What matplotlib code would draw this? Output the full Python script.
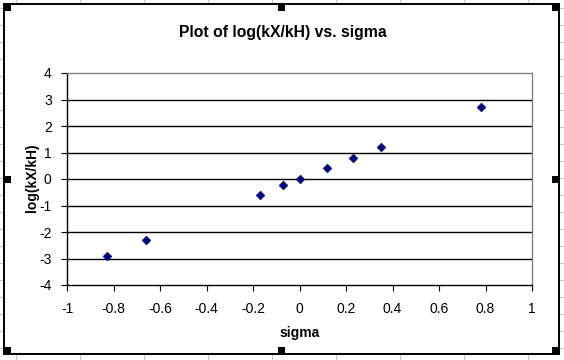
import matplotlib
matplotlib.use("Agg")
import matplotlib.pyplot as plt
from matplotlib.patches import Rectangle

# Data
sigma = [-0.83, -0.66, -0.17, -0.07, 0.0, 0.12, 0.23, 0.35, 0.78]
log_ratio = [-2.89, -2.29, -0.59, -0.21, 0.0, 0.43, 0.81, 1.22, 2.73]
x_ticks = [-1, -0.8, -0.6, -0.4, -0.2, 0, 0.2, 0.4, 0.6, 0.8, 1]
x_tick_labels = ["-1", "-0.8", "-0.6", "-0.4", "-0.2", "0", "0.2", "0.4", "0.6", "0.8", "1"]
y_ticks = [-4, -3, -2, -1, 0, 1, 2, 3, 4]
title = "Plot of log(kX/kH) vs. sigma"
xlabel = "sigma"
ylabel = "log(kX/kH)"

plt.rcParams['font.family'] = ['Liberation Sans', 'DejaVu Sans']

W, H = 564, 360
fig = plt.figure(figsize=(W / 100, H / 100), dpi=100)

# Background (spreadsheet cells + chart area)
bg = fig.add_axes([0, 0, 1, 1])
bg.set_xlim(0, W)
bg.set_ylim(H, 0)
bg.axis('off')
grid_c = '#c8c8c8'
for xv in range(16, W, 64):
    bg.plot([xv, xv], [0, H], color=grid_c, lw=0.8, zorder=0)
for yv in range(8, H, 17):
    bg.plot([0, W], [yv, yv], color=grid_c, lw=0.8, zorder=0)
bg.add_patch(Rectangle((4, 4), 555, 350, facecolor='white', edgecolor='black', lw=1.4, zorder=1))
# selection handles
hs = 7
for hx in (4, 281.5 - hs / 2, 559 - hs):
    for hy in (4, 354 - hs):
        bg.add_patch(Rectangle((hx, hy), hs, hs, facecolor='black', edgecolor='none', zorder=2))
for hx in (4, 559 - hs):
    bg.add_patch(Rectangle((hx, 179 - hs / 2), hs, hs, facecolor='black', edgecolor='none', zorder=2))

bg.text(283, 32, title, ha='center', va='center', fontsize=11.3, fontweight='bold', zorder=3)
bg.text(31.5, 178, ylabel, ha='center', va='center', rotation=90, fontsize=10, fontweight='bold', zorder=3)
bg.text(299.5, 333, xlabel, ha='center', va='center', fontsize=10, fontweight='bold', zorder=3)

# Plot area
left, right, top, bottom = 67, 532, 73, 285
ax = fig.add_axes([left / W, 1 - bottom / H, (right - left) / W, (bottom - top) / H])
ax.set_facecolor('white')
ax.set_xlim(-1, 1)
ax.set_ylim(-4, 4)
ax.set_xticks(x_ticks)
ax.set_xticklabels(x_tick_labels)
ax.set_yticks(y_ticks)
ax.set_yticklabels([str(v) for v in y_ticks])
for yv in y_ticks[1:-1]:
    ax.axhline(yv, color='black', lw=1.0, zorder=1)
ax.scatter(sigma, log_ratio, marker='D', s=20, color='#000080', edgecolors='#000060', linewidths=0.4, zorder=3)

for side in ('top', 'right'):
    ax.spines[side].set_color('#808080')
    ax.spines[side].set_linewidth(1.0)
for side in ('left', 'bottom'):
    ax.spines[side].set_color('black')
    ax.spines[side].set_linewidth(1.0)
ax.tick_params(axis='both', direction='out', length=4.5, width=0.8, labelsize=10, colors='black')
ax.tick_params(axis='x', pad=8)
ax.tick_params(axis='y', pad=6.5)

fig.savefig('out.png', dpi=100)
